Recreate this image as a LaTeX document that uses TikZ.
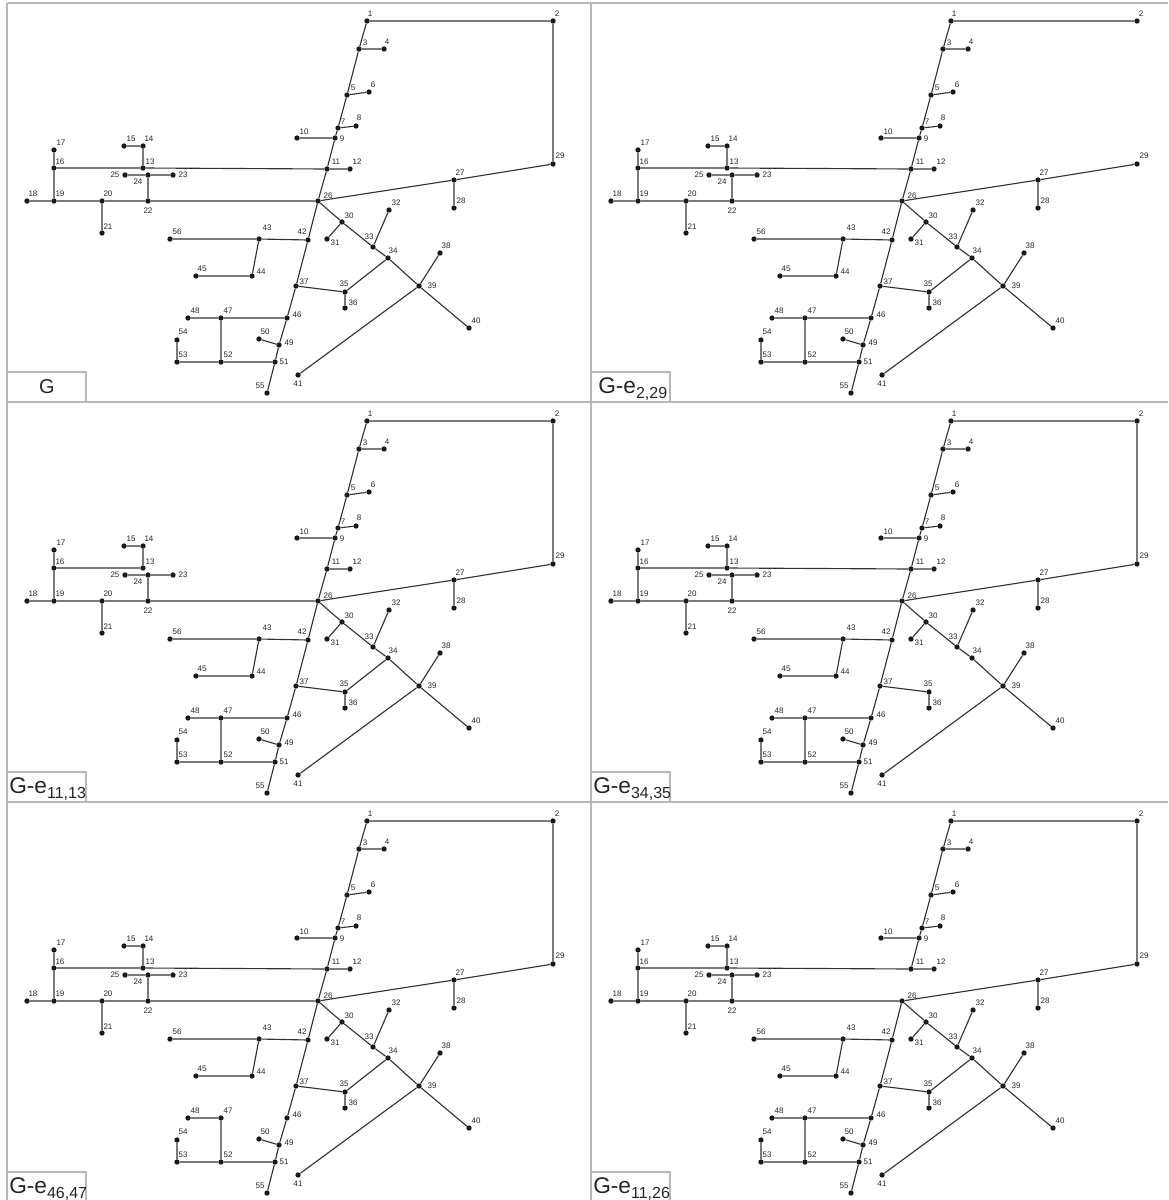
\documentclass[tikz,border=0pt]{standalone}
\usepackage{fontspec}
\setmainfont{Liberation Sans}
\begin{document}
\begin{tikzpicture}[x=0.75pt,y=-0.75pt,
  dot/.style={circle,fill=black!90,draw=none,inner sep=0pt,minimum size=4pt},
  lbl/.style={inner sep=0pt,font=\fontsize{6}{6.5}\selectfont,text=black!85},
  edge/.style={draw=black!80,line width=0.85pt},
  frame/.style={draw=black!28,line width=0.8pt},
  ttl/.style={inner sep=0pt,font=\fontsize{17}{18}\selectfont,text=black!85}]
\useasboundingbox (0,0) rectangle (1168,1200);
\fill[white] (0,0) rectangle (1168,1200);
\newcommand\V[5]{\node[dot] (n#1) at (#2,#3) {};\node[lbl] (l#1) at ([shift={(#4,#5)}]n#1) {#1};}
\newcommand\Graph{%
\V{1}{367}{21}{3}{-7}\V{2}{553}{21}{4}{-7}\V{3}{359}{49}{6}{-6}\V{4}{384}{49}{3}{-7}
\V{5}{347}{95}{6}{-7}\V{6}{369}{92}{4}{-7}\V{7}{338}{128}{5}{-6}\V{8}{356}{126}{3}{-8}
\V{9}{335}{138}{7}{1}\V{10}{297}{138}{7}{-6}\V{11}{327}{169}{9}{-7}\V{12}{350}{169}{7}{-7}
\V{13}{143}{168}{7}{-6}\V{14}{143}{146}{6}{-7}\V{15}{124}{146}{7}{-7}\V{16}{54}{168}{6}{-6}
\V{17}{54}{150}{7}{-7}\V{18}{27}{201}{6}{-7}\V{19}{54}{201}{6}{-7}\V{20}{102}{201}{6}{-7}
\V{21}{102}{233}{6}{-6}\V{22}{148}{201}{0}{10}\V{23}{173}{175}{10}{0}\V{24}{148}{175}{-10}{7}
\V{25}{125}{175}{-10}{0}\V{26}{318}{201}{10}{-5}\V{27}{454}{180}{6}{-7}\V{28}{454}{208}{7}{-7}
\V{29}{553}{164}{7}{-8}\V{30}{342}{222}{7}{-6}\V{31}{327}{239}{8}{4}\V{32}{389}{210}{7}{-7}
\V{33}{373}{247}{-4}{-10}\V{34}{388}{258}{5}{-7}\V{35}{345}{292}{-1}{-8}\V{36}{345}{308}{8}{-5}
\V{37}{296}{286}{8}{-4}\V{38}{440}{253}{6}{-7}\V{39}{419}{286}{13}{0}\V{40}{469}{328}{7}{-7}
\V{41}{298}{375}{0}{9}\V{42}{308}{240}{-6}{-8}\V{43}{259}{239}{8}{-11}\V{44}{252}{276}{9}{-4}
\V{45}{196}{276}{6}{-7}\V{46}{287}{318}{10}{-3}\V{47}{221}{318}{7}{-7}\V{48}{188}{318}{7}{-7}
\V{49}{279}{345}{10}{-2}\V{50}{259}{339}{6}{-7}\V{51}{275}{362}{9}{0}\V{52}{221}{362}{7}{-7}
\V{53}{177}{362}{6}{-7}\V{54}{177}{340}{6}{-8}\V{55}{267}{393}{-7}{-7}\V{56}{170}{239}{7}{-7}
\draw[edge] (n1)--(n2) (n29)--(n27) (n27)--(n26) (n27)--(n28)
 (n1)--(n3) (n3)--(n5) (n5)--(n7) (n7)--(n9) (n9)--(n11)
 (n26)--(n42) (n42)--(n37) (n37)--(n46) (n46)--(n49) (n49)--(n51) (n51)--(n55)
 (n3)--(n4) (n5)--(n6) (n7)--(n8) (n9)--(n10) (n11)--(n12)
 (n16)--(n13) (n13)--(n14) (n14)--(n15)
 (n16)--(n17) (n16)--(n19) (n18)--(n19) (n19)--(n20) (n20)--(n21) (n20)--(n22)
 (n22)--(n26) (n22)--(n24) (n24)--(n25) (n24)--(n23)
 (n26)--(n30) (n30)--(n31) (n30)--(n33) (n33)--(n32) (n33)--(n34) (n34)--(n39)
 (n39)--(n38) (n39)--(n40) (n39)--(n41) (n35)--(n36) (n35)--(n37)
 (n42)--(n43) (n43)--(n56) (n43)--(n44) (n44)--(n45)
 (n47)--(n48) (n47)--(n52) (n52)--(n53) (n53)--(n54) (n52)--(n51) (n49)--(n50);
\draw[frame] (7,372) rectangle (86,402);}
\newcommand\Sub[1]{\raisebox{-3.75pt}{\fontsize{12}{12}\selectfont #1}}
% panel frames
\draw[frame] (7,3)--(7,1200) (591,3)--(591,1200) (7,3)--(1168,3)
 (7,402)--(1168,402) (7,802)--(1168,802);
% panel G
\begin{scope}[name prefix=A-]
\Graph
\draw[edge] (n2)--(n29) (n11)--(n13) (n34)--(n35) (n46)--(n47) (n11)--(n26);
\node[ttl,font=\fontsize{15}{16}\selectfont] (t) at (47,387) {G};
\end{scope}
% panel G-e2,29
\begin{scope}[shift={(584,0)},name prefix=B-]
\Graph
\draw[edge] (n11)--(n13) (n34)--(n35) (n46)--(n47) (n11)--(n26);
\node[ttl,anchor=base west] (t) at (14,393) {G-e\Sub{2,29}};
\end{scope}
% panel G-e11,13
\begin{scope}[shift={(0,400)},name prefix=C-]
\Graph
\draw[edge] (n2)--(n29) (n34)--(n35) (n46)--(n47) (n11)--(n26);
\node[ttl,anchor=base west] (t) at (9,393) {G-e\Sub{11,13}};
\end{scope}
% panel G-e34,35
\begin{scope}[shift={(584,400)},name prefix=D-]
\Graph
\draw[edge] (n2)--(n29) (n11)--(n13) (n46)--(n47) (n11)--(n26);
\node[ttl,anchor=base west] (t) at (9,393) {G-e\Sub{34,35}};
\end{scope}
% panel G-e46,47
\begin{scope}[shift={(0,800)},name prefix=E-]
\Graph
\draw[edge] (n2)--(n29) (n11)--(n13) (n34)--(n35) (n11)--(n26);
\node[ttl,anchor=base west] (t) at (9,393) {G-e\Sub{46,47}};
\end{scope}
% panel G-e11,26
\begin{scope}[shift={(584,800)},name prefix=F-]
\Graph
\draw[edge] (n2)--(n29) (n11)--(n13) (n34)--(n35) (n46)--(n47);
\node[ttl,anchor=base west] (t) at (9,393) {G-e\Sub{11,26}};
\end{scope}
\end{tikzpicture}
\end{document}
